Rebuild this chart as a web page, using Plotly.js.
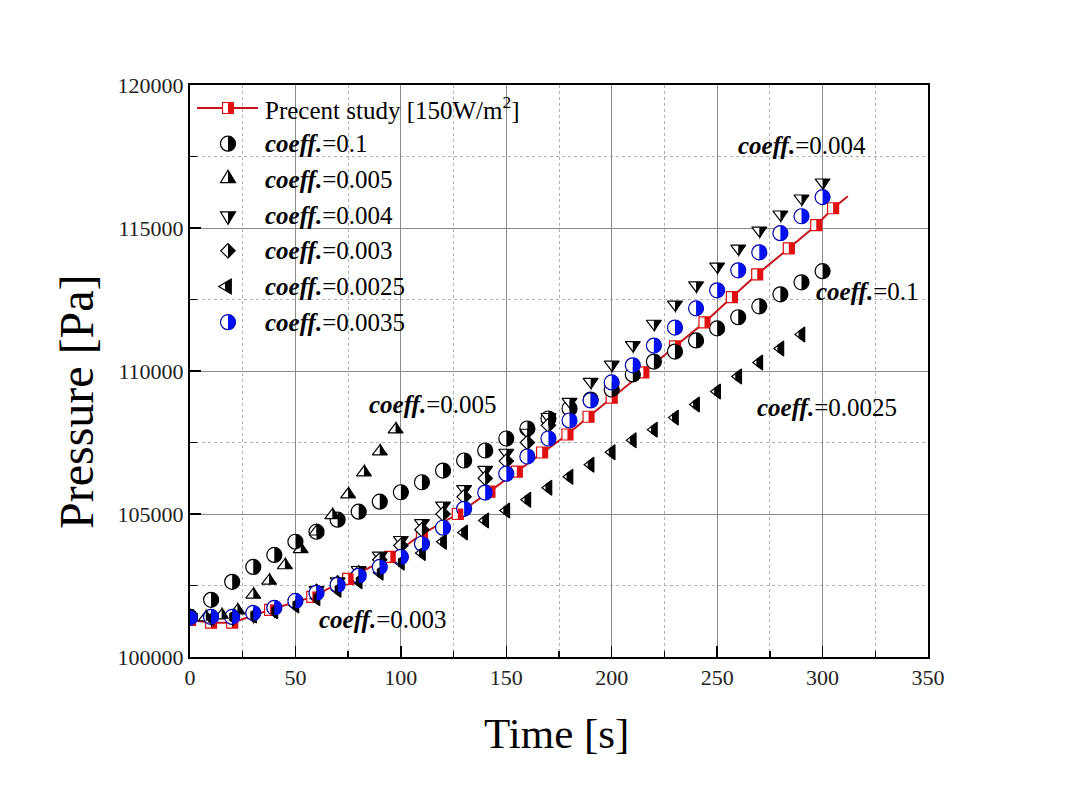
<!DOCTYPE html>
<html>
<head>
<meta charset="utf-8">
<script src="https://cdn.plot.ly/plotly-3.0.1.min.js"></script>
<style>body{margin:0;background:#fff}</style>
</head>
<body>
<div id="chart" style="width:1070px;height:790px"></div>
<script>
"use strict";

// time grids [s]
const time10 = [0,10,20,30,40,50,60,70,80,90,100,110,120,130,140,150,160,170,180,190,200,210,220,230,240,250,260,270,280,290,300];
const time0025 = [0,10,20,30,40,50,60,70,80,90,100,110,120,130,140,150,160,170,180,190,200,210,220,230,240,250,260,270,280,290];
const time003 = [0,10,20,30,40,50,60,70,80,90,100,110,120,130,140,150,160,170];
const time005 = [0,7.5,15,22.5,30,37.5,45,52.5,60,67.5,75,82.5,90,97.5];
const timeStudy = [0,10,20,38,58,75,95,110,127,142,155,167,179,189,200,215,230,244,257,269,284,297,305,312];

// pressure [Pa]
const pStudy = [101300,101200,101200,101650,102100,102730,103500,104300,105000,105780,106480,107150,107780,108400,109070,109950,110860,111700,112580,113380,114290,115100,115690,116110];
const p01 = [101400,102000,102630,103150,103570,104030,104380,104800,105080,105430,105760,106110,106520,106870,107220,107640,107990,108340,108690,109000,109350,109880,110330,110680,111070,111490,111880,112260,112680,113100,113490];
const p005 = [101400,101380,101450,101620,102170,102660,103200,103760,104380,104950,105680,106450,107180,107950];
const p004 = [101400,101350,101350,101450,101650,101900,102350,102650,103050,103550,104100,104690,105300,105880,106550,107150,107850,108400,108930,109630,110230,110910,111660,112330,113000,113660,114290,114920,115480,116040,116600];
const p003 = [101400,101380,101380,101480,101660,101900,102300,102600,102950,103400,103900,104450,105000,105600,106250,106850,107500,108100];
const p0025 = [101400,101350,101400,101450,101600,101800,102050,102350,102650,102950,103300,103640,104030,104350,104770,105120,105500,105920,106300,106720,107160,107580,107950,108370,108830,109280,109810,110300,110790,111280];
const p0035 = [101370,101400,101400,101540,101720,101960,102240,102520,102840,103150,103500,103960,104520,105180,105750,106410,107010,107640,108270,108970,109600,110200,110890,111520,112190,112820,113520,114150,114820,115410,116080];

const legendLabels = [
  "Precent study [150W/m<sup>2</sup>]",
  "<b><i>coeff.</i></b>=0.1",
  "<b><i>coeff.</i></b>=0.005",
  "<b><i>coeff.</i></b>=0.004",
  "<b><i>coeff.</i></b>=0.003",
  "<b><i>coeff.</i></b>=0.0025",
  "<b><i>coeff.</i></b>=0.0035"
];

const FONT = "Liberation Serif, Times New Roman, serif";
const RED = "#e01010";
const BLUE = "#0010ee";

// the red study line has one more point than it has markers
const studyMarkT = timeStudy.slice(0, timeStudy.length - 1);
const studyMarkP = pStudy.slice(0, pStudy.length - 1);

const series = [
  {x: studyMarkT, y: studyMarkP, symbol: "square", size: 11, edge: RED, half: RED},
  {x: time10, y: p01, symbol: "circle", size: 15, edge: "#000", half: "#000"},
  {x: time005, y: p005, symbol: "triangle-up", size: 13, edge: "#000", half: "#000"},
  {x: time10, y: p004, symbol: "triangle-down", size: 13, edge: "#000", half: "#000"},
  {x: time003, y: p003, symbol: "diamond", size: 11, edge: "#000", half: "#000"},
  {x: time0025, y: p0025, symbol: "triangle-left", size: 13, edge: "#000", half: "#000"},
  {x: time10, y: p0035, symbol: "circle", size: 15, edge: "#0000aa", half: BLUE}
];

// marker outlines in pixels (svg y down) -> plotly pixel paths (y up)
function f(v) { return (Math.round(v * 100) / 100).toString(); }
function pt(x, y) { return f(x) + "," + f(-y); }
function poly(pts) {
  return "M" + pts.map(p => pt(p[0], p[1])).join("L") + "Z";
}

function markerPaths(symbol, size) {
  const r = size / 2;
  const k = 0.5523;
  const rt = r * 2 / Math.sqrt(3), r2 = r / 2, rs = r * Math.sqrt(2);
  if (symbol === "circle") {
    const full = "M" + pt(r, 0) + "C" + pt(r, k * r) + " " + pt(k * r, r) + " " + pt(0, r) +
      "C" + pt(-k * r, r) + " " + pt(-r, k * r) + " " + pt(-r, 0) +
      "C" + pt(-r, -k * r) + " " + pt(-k * r, -r) + " " + pt(0, -r) +
      "C" + pt(k * r, -r) + " " + pt(r, -k * r) + " " + pt(r, 0) + "Z";
    const half = "M" + pt(0, -r) + "C" + pt(k * r, -r) + " " + pt(r, -k * r) + " " + pt(r, 0) +
      "C" + pt(r, k * r) + " " + pt(k * r, r) + " " + pt(0, r) + "Z";
    return {full, half};
  }
  if (symbol === "triangle-up") {
    return {full: poly([[-rt, r2], [rt, r2], [0, -rs]]), half: poly([[0, -rs], [rt, r2], [0, r2]])};
  }
  if (symbol === "triangle-down") {
    return {full: poly([[-rt, -r2], [rt, -r2], [0, rs]]), half: poly([[0, -r2], [rt, -r2], [0, rs]])};
  }
  if (symbol === "diamond") {
    const rd = r * 1.3;
    return {full: poly([[rd, 0], [0, rd], [-rd, 0], [0, -rd]]), half: poly([[0, -rd], [rd, 0], [0, rd]])};
  }
  if (symbol === "triangle-left") {
    const xm = (r2 - rs) / 2;
    const yh = rt * (xm + rs) / (r2 + rs);
    return {full: poly([[r2, -rt], [r2, rt], [-rs, 0]]), half: poly([[xm, -yh], [r2, -rt], [r2, rt], [xm, yh]])};
  }
  // square
  return {full: poly([[-r, -r], [r, -r], [r, r], [-r, r]]), half: poly([[0, -r], [r, -r], [r, r], [0, r]])};
}

const traces = [{
  x: timeStudy, y: pStudy, mode: "lines", type: "scatter",
  line: {color: "#c8141e", width: 2}, hoverinfo: "skip"
}];
const shapes = [];

series.forEach(s => {
  traces.push({
    x: s.x, y: s.y, mode: "markers", type: "scatter", hoverinfo: "skip",
    marker: {symbol: s.symbol, size: s.size, color: "#ffffff", line: {color: s.edge, width: 1.2}}
  });
  const paths = markerPaths(s.symbol, s.size);
  s.x.forEach((xv, i) => {
    shapes.push({
      type: "path", xref: "x", yref: "y", xsizemode: "pixel", ysizemode: "pixel",
      xanchor: xv, yanchor: s.y[i], path: paths.half,
      fillcolor: s.half, line: {width: 0}, layer: "above"
    });
  });
});

// hand-built legend (no frame, inside the plot)
const plotLeft = 190, plotTop = 85, plotW = 738, plotH = 572;
const legRow0 = 108, legStep = 35.7, legSymX = 228, legTextX = 263;
const annotations = [];
function paperX(px) { return (px - plotLeft) / plotW; }
function paperY(py) { return (plotTop + plotH - py) / plotH; }

legendLabels.forEach((label, i) => {
  const y = paperY(legRow0 + i * legStep);
  const s = series[i];
  const paths = markerPaths(s.symbol, s.size);
  if (i === 0) {
    shapes.push({type: "line", xref: "paper", yref: "paper", x0: paperX(197), x1: paperX(258), y0: y, y1: y,
      line: {color: "#c8141e", width: 2}, layer: "above"});
  }
  shapes.push({type: "path", xref: "paper", yref: "paper", xsizemode: "pixel", ysizemode: "pixel",
    xanchor: paperX(legSymX), yanchor: y, path: paths.full,
    fillcolor: "#ffffff", line: {color: s.edge, width: 1.2}, layer: "above"});
  shapes.push({type: "path", xref: "paper", yref: "paper", xsizemode: "pixel", ysizemode: "pixel",
    xanchor: paperX(legSymX), yanchor: y, path: paths.half,
    fillcolor: s.half, line: {width: 0}, layer: "above"});
  annotations.push({xref: "paper", yref: "paper", x: paperX(legTextX), y: y, xanchor: "left", yanchor: "middle",
    text: label, showarrow: false, font: {family: FONT, size: 25, color: "#000"}});
});

// labels next to the curves
const curveLabels = [
  {x: 84, y: 108830, text: "<b><i>coeff.</i></b>=0.005"},
  {x: 259, y: 117870, text: "<b><i>coeff.</i></b>=0.004"},
  {x: 296, y: 112790, text: "<b><i>coeff.</i></b>=0.1"},
  {x: 268, y: 108720, text: "<b><i>coeff.</i></b>=0.0025"},
  {x: 60, y: 101300, text: "<b><i>coeff.</i></b>=0.003"}
];
curveLabels.forEach(c => {
  annotations.push({xref: "x", yref: "y", x: c.x, y: c.y, xanchor: "left", yanchor: "middle",
    text: c.text, showarrow: false, font: {family: FONT, size: 25, color: "#000"}});
});

// axis titles placed as in the reference
annotations.push({xref: "paper", yref: "paper", x: paperX(556), y: paperY(733), xanchor: "center", yanchor: "middle",
  text: "Time [s]", showarrow: false, font: {family: FONT, size: 43, color: "#000"}});
annotations.push({xref: "paper", yref: "paper", x: paperX(76), y: paperY(402), xanchor: "center", yanchor: "middle",
  text: "Pressure [Pa]", textangle: -90, showarrow: false, font: {family: FONT, size: 48, color: "#000"}});

const axisCommon = {
  showline: true, linecolor: "#000", linewidth: 2, mirror: true,
  ticks: "inside", ticklen: 11, tickwidth: 1.5, tickcolor: "#000",
  showgrid: true, gridcolor: "#8a8a8a", gridwidth: 1, zeroline: false,
  tickfont: {family: FONT, size: 22, color: "#222"}
};

const layout = {
  width: 1070, height: 790,
  margin: {l: plotLeft, r: 1070 - plotLeft - plotW, t: plotTop, b: 790 - plotTop - plotH},
  paper_bgcolor: "#fff", plot_bgcolor: "#fff",
  showlegend: false,
  xaxis: Object.assign({}, axisCommon, {
    range: [0, 350], dtick: 50, tick0: 0,
    minor: {dtick: 25, ticks: "inside", ticklen: 6, tickcolor: "#000", showgrid: true, gridcolor: "#b0b0b0", griddash: "dot", gridwidth: 1}
  }),
  yaxis: Object.assign({}, axisCommon, {
    range: [100000, 120000], dtick: 5000, tick0: 100000, tickformat: "d",
    minor: {dtick: 2500, ticks: "inside", ticklen: 7, tickcolor: "#000", showgrid: true, gridcolor: "#b0b0b0", griddash: "dot", gridwidth: 1}
  }),
  shapes: shapes,
  annotations: annotations
};

Plotly.newPlot("chart", traces, layout, {staticPlot: true, displayModeBar: false});
</script>
</body>
</html>
